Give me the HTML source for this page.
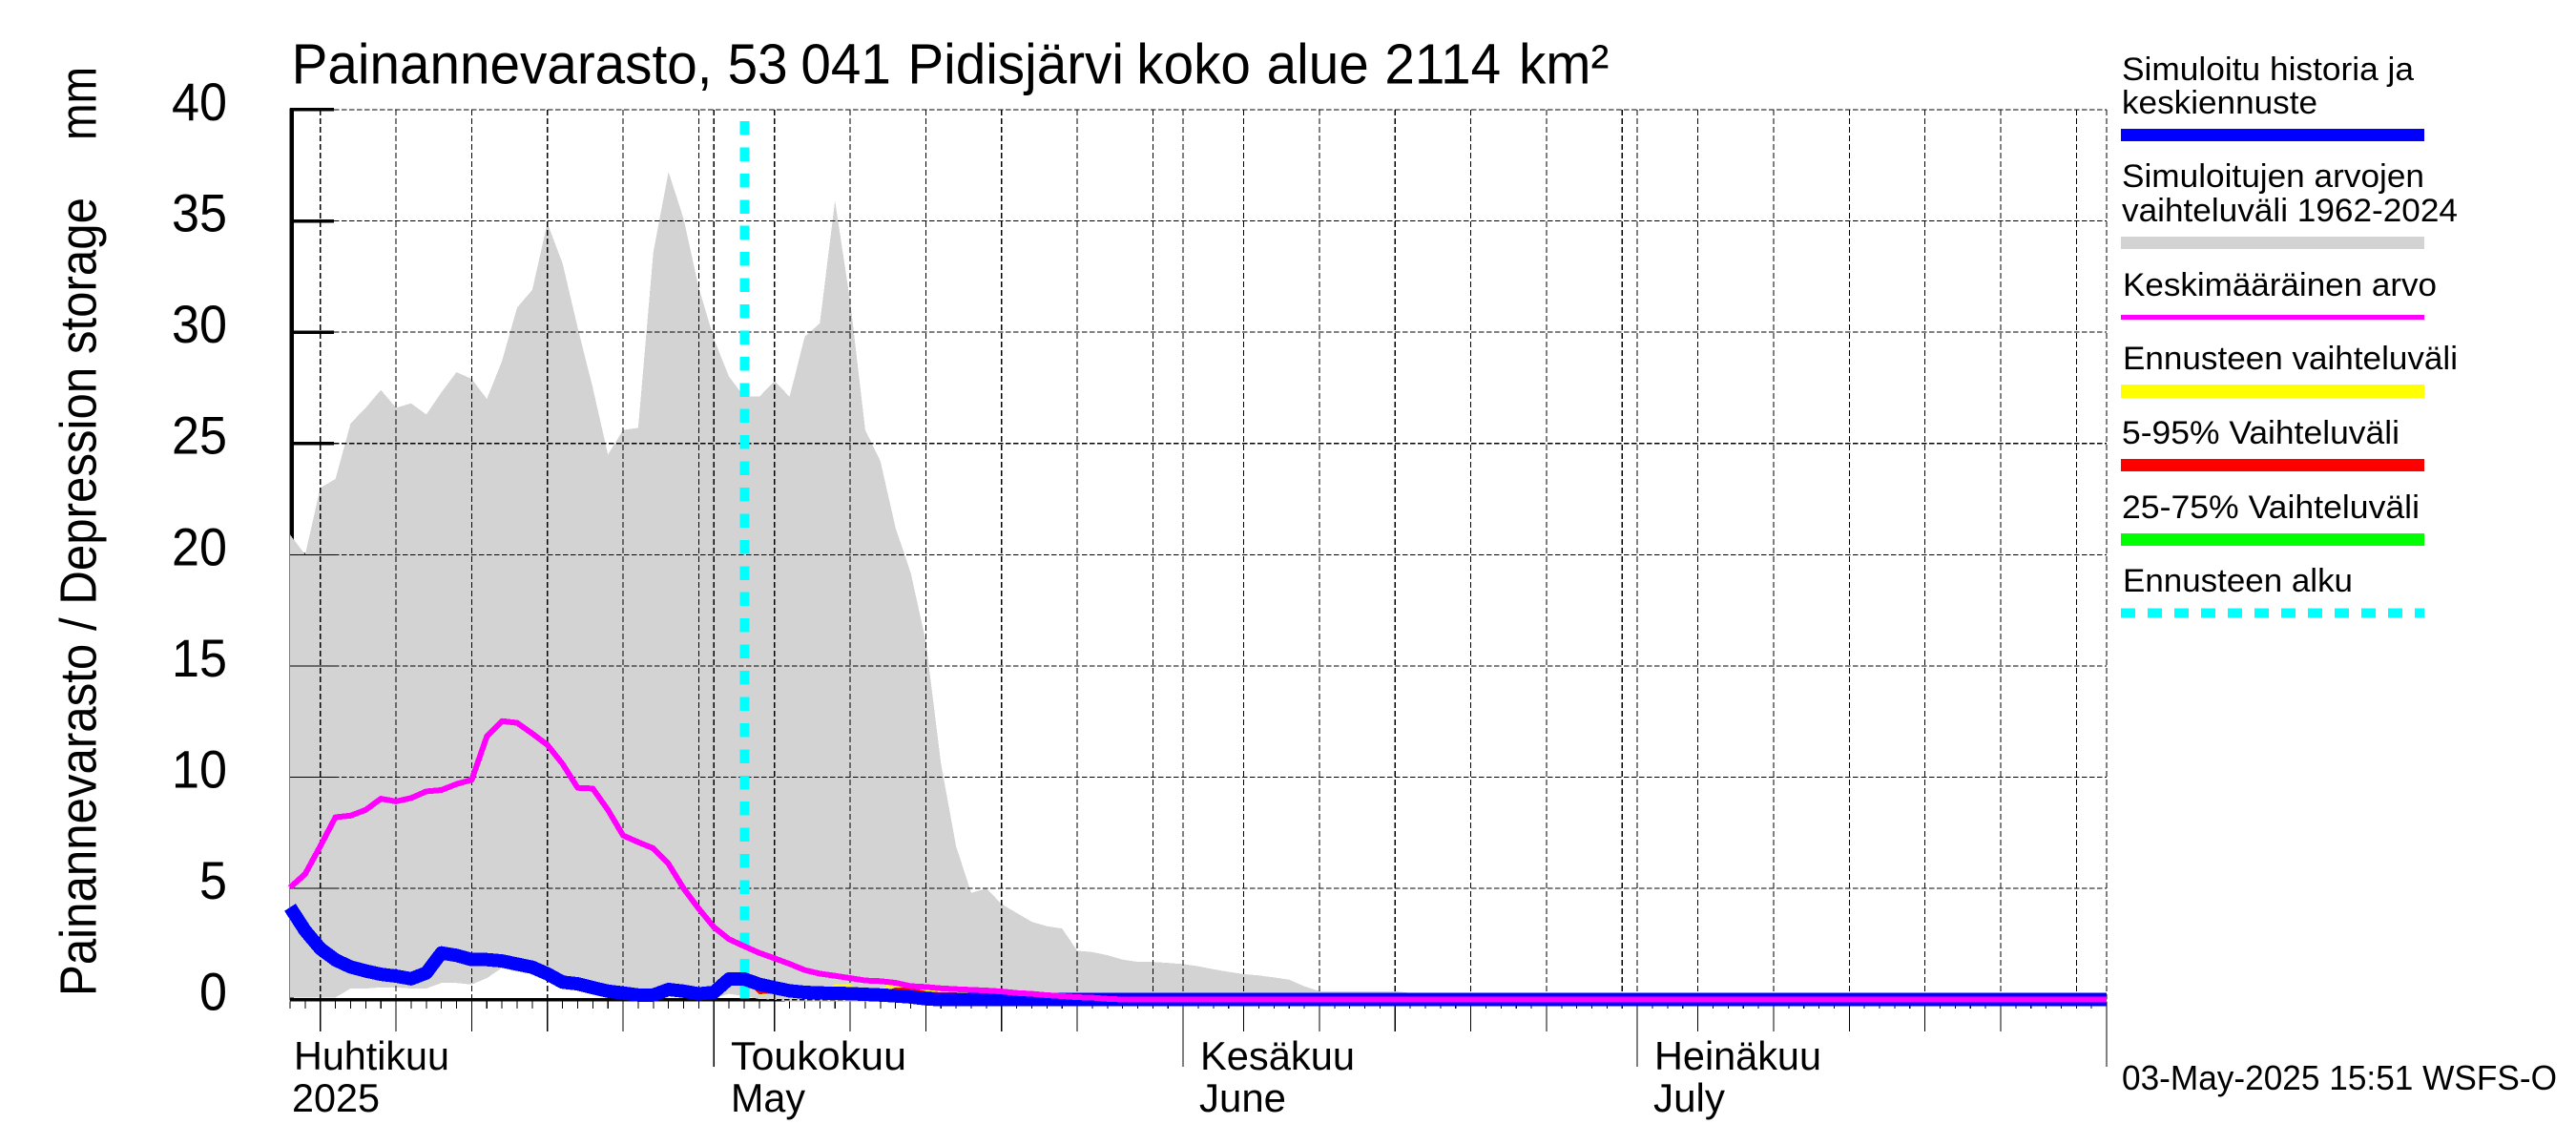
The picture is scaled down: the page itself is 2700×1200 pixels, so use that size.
<!DOCTYPE html>
<html lang="fi">
<head>
<meta charset="utf-8">
<title>Painannevarasto, 53 041 Pidisjärvi</title>
<style>
html,body{margin:0;padding:0;background:#fff;width:2700px;height:1200px;overflow:hidden}
svg{display:block;position:absolute;left:0;top:0}
text{font-family:"Liberation Sans",sans-serif;fill:#000}
</style>
</head>
<body>
<svg id="chart" xmlns="http://www.w3.org/2000/svg" width="2700" height="1200" viewBox="0 0 2700 1200">
  <rect x="0" y="0" width="2700" height="1200" fill="#fff"/>
  <g id="layer-under" shape-rendering="crispEdges"></g>
  <g id="layer-range" shape-rendering="crispEdges"></g>
  <g id="layer-grid" shape-rendering="crispEdges"></g>
  <g id="layer-series" shape-rendering="crispEdges"></g>
  <g id="layer-labels"></g>

  <text transform="scale(0.96,1)" y="87.3" font-size="59"><tspan x="318.4">Painannevarasto,</tspan> <tspan x="794.4">53</tspan> <tspan x="874.3">041</tspan> <tspan x="991">Pidisjärvi</tspan> <tspan x="1240.9">koko</tspan> <tspan x="1383">alue</tspan> <tspan x="1511.8">2114</tspan> <tspan x="1658.3">km²</tspan></text>
  <text transform="translate(100.5,1044) rotate(-90)" font-size="54" textLength="837" lengthAdjust="spacingAndGlyphs">Painannevarasto / Depression storage</text>
  <text transform="translate(100.5,147) rotate(-90)" font-size="54" textLength="77" lengthAdjust="spacingAndGlyphs">mm</text>

  <text x="308" y="1121" font-size="42" textLength="163" lengthAdjust="spacingAndGlyphs">Huhtikuu</text>
  <text x="306" y="1165" font-size="42" textLength="92" lengthAdjust="spacingAndGlyphs">2025</text>
  <text x="766" y="1121" font-size="42" textLength="184" lengthAdjust="spacingAndGlyphs">Toukokuu</text>
  <text x="766" y="1165" font-size="42" textLength="78" lengthAdjust="spacingAndGlyphs">May</text>
  <text x="1258" y="1121" font-size="42" textLength="162" lengthAdjust="spacingAndGlyphs">Kesäkuu</text>
  <text x="1257" y="1165" font-size="42" textLength="91" lengthAdjust="spacingAndGlyphs">June</text>
  <text x="1734" y="1121" font-size="42" textLength="175" lengthAdjust="spacingAndGlyphs">Heinäkuu</text>
  <text x="1733" y="1165" font-size="42" textLength="75" lengthAdjust="spacingAndGlyphs">July</text>
  <text x="2224" y="1142" font-size="36" textLength="456" lengthAdjust="spacingAndGlyphs">03-May-2025 15:51 WSFS-O</text>

  <g>
    <g>
      <text x="2224" y="84" font-size="34" textLength="306" lengthAdjust="spacingAndGlyphs">Simuloitu historia ja</text>
      <text x="2224" y="119" font-size="34" textLength="205" lengthAdjust="spacingAndGlyphs">keskiennuste</text>
      <rect x="2223" y="135" width="318" height="13" fill="#0000ff"/>
    </g>
    <g>
      <text x="2224" y="196" font-size="34" textLength="317" lengthAdjust="spacingAndGlyphs">Simuloitujen arvojen</text>
      <text x="2224" y="232" font-size="34" textLength="352" lengthAdjust="spacingAndGlyphs">vaihteluväli 1962-2024</text>
      <rect x="2223" y="248" width="318" height="13" fill="#d3d3d3"/>
    </g>
    <g>
      <text x="2225" y="310" font-size="34" textLength="329" lengthAdjust="spacingAndGlyphs">Keskimääräinen arvo</text>
      <rect x="2223" y="330" width="318" height="5" fill="#ff00ff"/>
    </g>
    <g>
      <text x="2225" y="387" font-size="34" textLength="351" lengthAdjust="spacingAndGlyphs">Ennusteen vaihteluväli</text>
      <rect x="2223" y="403" width="318" height="14" fill="#ffff00"/>
    </g>
    <g>
      <text x="2224" y="465" font-size="34" textLength="291" lengthAdjust="spacingAndGlyphs">5-95% Vaihteluväli</text>
      <rect x="2223" y="481" width="318" height="13" fill="#ff0000"/>
    </g>
    <g>
      <text x="2224" y="543" font-size="34" textLength="312" lengthAdjust="spacingAndGlyphs">25-75% Vaihteluväli</text>
      <rect x="2223" y="559" width="318" height="13" fill="#00ff00"/>
    </g>
    <g>
      <text x="2225" y="620" font-size="34" textLength="241" lengthAdjust="spacingAndGlyphs">Ennusteen alku</text>
      <line x1="2223" y1="642.5" x2="2541" y2="642.5" stroke="#00ffff" stroke-width="10" stroke-dasharray="15 13" shape-rendering="crispEdges"/>
    </g>
  </g>
</svg>

<script>
/* Daily values in mm, starting 3 April 2025 (day 0) */
const rangeUpper = [
20.9,20.0,23.0,23.4,25.9,26.6,27.4,26.6,26.8,26.3,
27.3,28.2,27.9,27.0,28.7,31.1,31.9,34.9,33.1,30.2,
27.5,24.5,25.6,25.7,33.6,37.2,35.1,32.0,29.7,28.0,
27.1,27.1,27.8,27.1,29.8,30.4,35.9,31.4,25.6,24.2,
21.2,19.2,16.1,10.6,6.9,4.8,5.0,4.3,3.9,3.5,
3.3,3.2,2.2,2.14,2.0,1.8,1.7,1.7,1.65,1.6,
1.5,1.37,1.25,1.15,1.09,1.0,0.9,0.6,0.38,0.38,
0.38,0.38,0.38,0.38,0.3,0.25,0,0,0,0,
0,0,0,0,0,0,0,0,0,0,
0,0,0,0,0,0,0,0,0,0,
0,0,0,0,0,0,0,0,0,0,
0,0,0,0,0,0,0,0,0,0,
0];
const rangeLower = [
0.1,0.1,0.1,0.1,0.5,0.5,0.55,0.55,0.5,0.5,
0.75,0.75,0.68,0.97,1.43,1.26,1.16,0.83,0.57,0.5,
0.4,0.3,0.19,0.09,0.04,0.2,0.13,0.07,0.07,0.26,
0.16,0.03,0,-0.1,-0.1,-0.1,-0.1,-0.1,-0.1,-0.1,
-0.1,-0.1,-0.1,-0.1,-0.1,-0.1,-0.1,-0.1,-0.1,-0.1,
-0.1,-0.1,-0.1,-0.1,-0.1,-0.1,-0.1,-0.1,-0.1,-0.1,
-0.1,-0.1,-0.1,-0.1,-0.1,-0.1,-0.1,-0.1,-0.1,-0.1,
-0.1,-0.1,-0.1,-0.1,-0.1,-0.1,0,0,0,0,
0,0,0,0,0,0,0,0,0,0,
0,0,0,0,0,0,0,0,0,0,
0,0,0,0,0,0,0,0,0,0,
0,0,0,0,0,0,0,0,0,0,
0];
const meanValues = [
5.04,5.65,6.9,8.2,8.27,8.53,9.03,8.91,9.06,9.36,
9.42,9.69,9.88,11.83,12.52,12.44,11.96,11.45,10.6,9.52,
9.49,8.53,7.38,7.08,6.8,6.1,5.0,4.09,3.26,2.72,
2.4,2.1,1.86,1.61,1.33,1.17,1.07,0.97,0.86,0.83,
0.76,0.61,0.57,0.51,0.47,0.44,0.41,0.37,0.3,0.26,
0.2,0.16,0.11,0.09,0.04,0.01,0,0,0,0,
0,0,0,0,0,0,0,0,0,0,
0,0,0,0,0,0,0,0,0,0,
0,0,0,0,0,0,0,0,0,0,
0,0,0,0,0,0,0,0,0,0,
0,0,0,0,0,0,0,0,0,0,
0,0,0,0,0,0,0,0,0,0,
0];
const simulatedValues = [
4.15,3.1,2.3,1.79,1.47,1.29,1.14,1.06,0.94,1.2,
2.1,1.99,1.8,1.8,1.74,1.6,1.46,1.16,0.79,0.71,
0.54,0.38,0.3,0.21,0.21,0.46,0.38,0.26,0.33,0.93,
0.93,0.69,0.54,0.4,0.33,0.3,0.29,0.27,0.24,0.21,
0.17,0.12,0.04,0,0,0,0,0,0,0,
0,0,0,0,0,0,0,0,0,0,
0,0,0,0,0,0,0,0,0,0,
0,0,0,0,0,0,0,0,0,0,
0,0,0,0,0,0,0,0,0,0,
0,0,0,0,0,0,0,0,0,0,
0,0,0,0,0,0,0,0,0,0,
0,0,0,0,0,0,0,0,0,0,
0];
/* Forecast bands start at the forecast day (day 30) */
const forecastFirstDay = 30;
const forecastHigh = [
0.93,0.72,0.58,0.45,0.37,0.35,0.69,0.69,0.38,0.45,
0.88,0.72,0.45,0.4,0.35,0.33,0.33,0.3,0.25,0.2,
0.15,0.1,0.05,0,0,0,0,0,0,0,
0,0,0,0,0,0,0,0,0,0,
0,0,0,0,0,0,0,0,0,0,
0,0,0,0,0,0,0,0,0,0,
0,0,0,0,0,0,0,0,0,0,
0,0,0,0,0,0,0,0,0,0,
0,0,0,0,0,0,0,0,0,0,
0];
const forecastLow = [
0.88,0.22,0.25,0.25,0.22,0.18,0.15,0.12,0.1,0.08,
0.06,0.05,0.03,0.02,0.01,0,0,0,0,0,
0,0,0,0,0,0,0,0,0,0,
0,0,0,0,0,0,0,0,0,0,
0,0,0,0,0,0,0,0,0,0,
0,0,0,0,0,0,0,0,0,0,
0,0,0,0,0,0,0,0,0,0,
0,0,0,0,0,0,0,0,0,0,
0,0,0,0,0,0,0,0,0,0,
0];
const band595High = [
0.9,0.7,0.55,0.4,0.33,0.3,0.3,0.3,0.3,0.3,
0.55,0.55,0.38,0.33,0.33,0.1,0.05,0,0,0,
0,0,0,0,0,0,0,0,0,0,
0,0,0,0,0,0,0,0,0,0,
0,0,0,0,0,0,0,0,0,0,
0,0,0,0,0,0,0,0,0,0,
0,0,0,0,0,0,0,0,0,0,
0,0,0,0,0,0,0,0,0,0,
0,0,0,0,0,0,0,0,0,0,
0];
const band595Low = [
0.9,0.25,0.28,0.28,0.25,0.2,0.17,0.14,0.12,0.1,
0.08,0.06,0.04,0.03,0.02,0,0,0,0,0,
0,0,0,0,0,0,0,0,0,0,
0,0,0,0,0,0,0,0,0,0,
0,0,0,0,0,0,0,0,0,0,
0,0,0,0,0,0,0,0,0,0,
0,0,0,0,0,0,0,0,0,0,
0,0,0,0,0,0,0,0,0,0,
0,0,0,0,0,0,0,0,0,0,
0];
const yTickValues = [0,5,10,15,20,25,30,35,40];
/* Day numbers counted from 3 April */
const gridDays = [2,7,12,17,22,27,28,32,37,42,47,52,57,59,63,68,73,78,83,88,89,93,98,103,108,113,118,120];
const fiveDayTickDays = [2,7,12,17,22,32,37,42,47,52,63,68,73,78,83,93,98,103,108,113];
const monthTickDays = [28,59,89,120];
const dayCount = 120;
const forecastStartDay = 30;

const NS = 'http://www.w3.org/2000/svg';
const xOf = d => 304 + d * 15.867;
const yOf = v => 1047.7 - v * 23.32;
const plotLeft = xOf(0), plotRight = xOf(dayCount), plotTop = yOf(40), plotBottom = yOf(0);

function mk(parent, tag, attrs) {
  const el = document.createElementNS(NS, tag);
  for (const k in attrs) el.setAttribute(k, attrs[k]);
  document.getElementById(parent).appendChild(el);
  return el;
}
function pts(values, first) {
  return values.map((v, i) => xOf(first + i).toFixed(1) + ',' + yOf(v).toFixed(1));
}
function band(parent, high, low, first, fill) {
  return mk(parent, 'polygon', {points: pts(high, first).concat(pts(low, first).reverse()).join(' '), fill: fill});
}
function line(parent, x1, y1, x2, y2, w, color, dash) {
  const a = {x1: x1, y1: y1, x2: x2, y2: y2, stroke: color, 'stroke-width': w};
  if (dash) a['stroke-dasharray'] = dash;
  return mk(parent, 'line', a);
}

/* thick frame under the gray range */
let el = line('layer-under', 305.5, plotTop - 1.5, 305.5, plotBottom + 1, 4.5, '#000');


el = line('layer-under', plotLeft, 1047.8, plotRight, 1047.8, 3.5, '#000');


yTickValues.forEach(v => {
  const t = line('layer-under', plotLeft, yOf(v), 350, yOf(v), 3.5, '#000');
  
  
});

/* gray simulated range */
el = band('layer-range', rangeUpper, rangeLower, 0, '#d3d3d3');



/* grid and ticks */
yTickValues.forEach(v => {
  const g = line('layer-grid', 350, yOf(v), plotRight, yOf(v), 1.1, '#000', '5.5 2.5');
  
  
  const t = line('layer-grid', plotLeft, yOf(v), 350, yOf(v), 1.1, '#000');
  
  
});
gridDays.forEach(d => {
  const g = line('layer-grid', xOf(d), plotTop, xOf(d), plotBottom, 1.1, '#000', '6 3');
  
  
});
rangeUpper.forEach((_, d) => {
  const t = line('layer-grid', xOf(d), plotBottom + 2, xOf(d), 1057, 1.1, '#000');
  
  
});
fiveDayTickDays.forEach(d => {
  const t = line('layer-grid', xOf(d), plotBottom + 2, xOf(d), 1081, 1.1, '#000');
  
  
});
monthTickDays.forEach(d => {
  const t = line('layer-grid', xOf(d), plotBottom + 2, xOf(d), 1118, 1.1, '#000');
  
  
});

/* forecast start */
el = line('layer-series', xOf(forecastStartDay) + 0.5, 127, xOf(forecastStartDay) + 0.5, plotBottom + 3, 10, '#00ffff', '14.5 12.93');



/* forecast bands */
el = band('layer-series', forecastHigh, forecastLow, forecastFirstDay, '#ffff00');


el = band('layer-series', band595High, band595Low, forecastFirstDay, '#ff0000');



/* simulated line */
el = mk('layer-series', 'polyline', {points: pts(simulatedValues, 0).join(' '), fill: 'none', stroke: '#0000ff', 'stroke-width': 14, 'stroke-linejoin': 'round'});



/* mean line */
el = mk('layer-series', 'polyline', {points: pts(meanValues, 0).join(' '), fill: 'none', stroke: '#ff00ff', 'stroke-width': 6, 'stroke-linejoin': 'round'});



/* y tick labels */
yTickValues.forEach(v => {
  const t = mk('layer-labels', 'text', {x: 238, y: (yOf(v) + 11).toFixed(1), 'font-size': 56, 'text-anchor': 'end', textLength: String(v).length > 1 ? 58 : 29, lengthAdjust: 'spacingAndGlyphs'});
  
  
  t.textContent = String(v);
});
</script>
</body>
</html>
